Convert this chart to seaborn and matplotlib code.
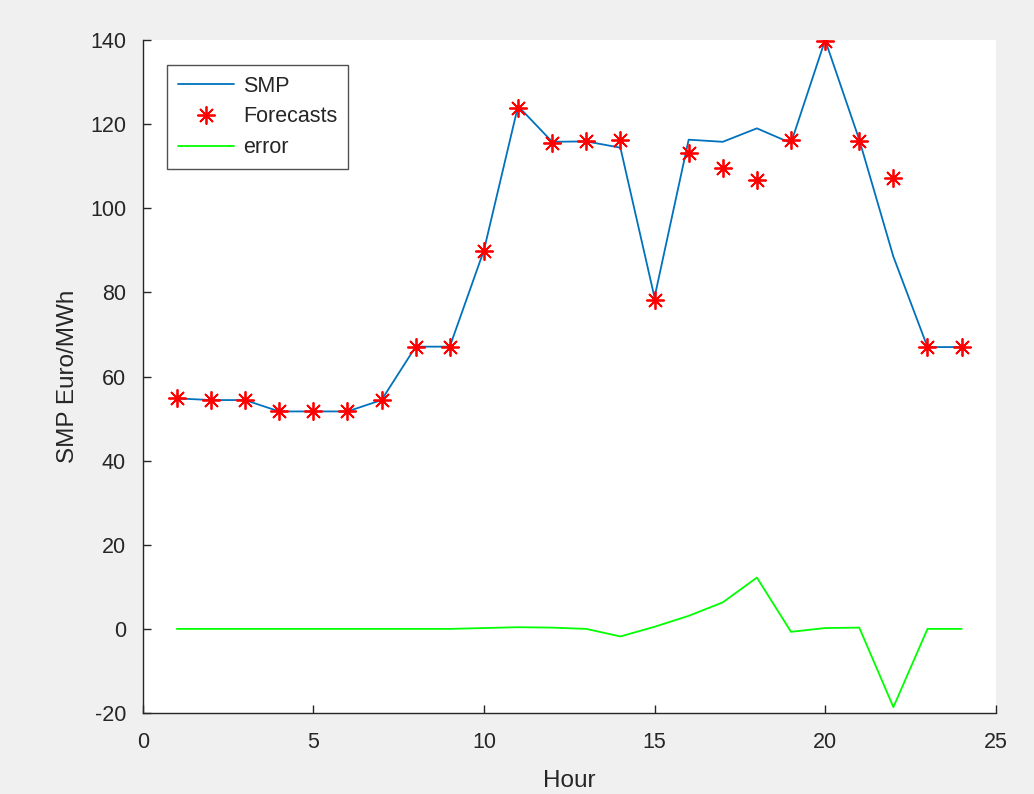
import matplotlib
matplotlib.use("Agg")
import matplotlib.pyplot as plt
import seaborn as sns
import numpy as np
import pandas as pd

hours = list(range(1, 25))
smp = [54.8, 54.4, 54.4, 51.7, 51.7, 51.7, 54.4, 67.1, 67.1, 90.0, 124.3, 115.8,
       115.9, 114.4, 78.8, 116.3, 115.8, 119.0, 115.5, 140.0, 116.3, 88.5, 67.0, 67.0]
forecasts = [54.8, 54.4, 54.4, 51.7, 51.7, 51.7, 54.4, 67.1, 67.1, 89.8, 123.9, 115.5,
             115.9, 116.2, 78.3, 113.2, 109.5, 106.8, 116.2, 139.8, 116.0, 107.1, 67.0, 67.0]
error = [s - f for s, f in zip(smp, forecasts)]

xticks = [0, 5, 10, 15, 20, 25]
yticks = [-20, 0, 20, 40, 60, 80, 100, 120, 140]

sns.set_style("ticks")
plt.rcParams["font.family"] = ["Liberation Sans", "DejaVu Sans"]
plt.rcParams["axes.unicode_minus"] = False

fig = plt.figure(figsize=(10.34, 7.94), dpi=100, facecolor="#f0f0f0")
ax = fig.add_axes([0.138, 0.102, 0.825, 0.8476])
ax.set_facecolor("white")

df = pd.DataFrame({"Hour": hours, "SMP": smp, "Forecasts": forecasts, "error": error})

sns.lineplot(data=df, x="Hour", y="SMP", ax=ax, color="#0072BD", linewidth=1.3, label="SMP")
sns.lineplot(data=df, x="Hour", y="Forecasts", ax=ax, color="red", linestyle="none",
             marker=(8, 2, 0), markersize=13, markeredgewidth=1.3, markeredgecolor="red",
             label="Forecasts")
sns.lineplot(data=df, x="Hour", y="error", ax=ax, color="#00FF00", linewidth=1.3, label="error")

ax.set_xlim(0, 25)
ax.set_ylim(-20, 140)
ax.set_xticks(xticks)
ax.set_yticks(yticks)
ax.tick_params(direction="in", length=6, width=1, colors="#262626", labelsize=15.5)
ax.tick_params(axis="x", pad=14)
ax.tick_params(axis="y", pad=12)
for s in ["top", "right"]:
    ax.spines[s].set_visible(False)
for s in ["left", "bottom"]:
    ax.spines[s].set_color("#262626")
    ax.spines[s].set_linewidth(1)

ax.set_xlabel("Hour", fontsize=17.5, color="#262626", labelpad=12)
ax.set_ylabel("SMP Euro/MWh", fontsize=17.5, color="#262626", labelpad=8)

leg = ax.legend(loc="upper left", bbox_to_anchor=(0.029, 0.963), borderaxespad=0,
                fontsize=15.5, frameon=True, fancybox=False, handlelength=2.6,
                handletextpad=0.4, labelspacing=0.45, borderpad=0.5)
leg.get_frame().set_edgecolor("#262626")
leg.get_frame().set_linewidth(1)

fig.savefig("out.png", dpi=100, facecolor=fig.get_facecolor())
